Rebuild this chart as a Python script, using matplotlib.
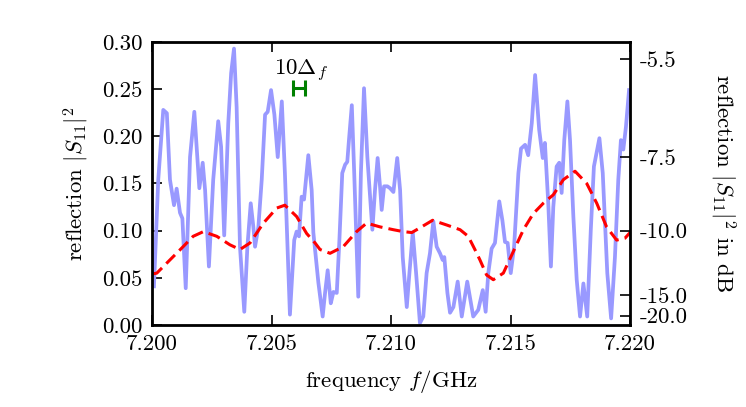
import numpy as np
import matplotlib
matplotlib.use("Agg")
import matplotlib.pyplot as plt

plt.rcParams["font.family"] = "serif"
plt.rcParams["font.serif"] = ["cmr10"]
plt.rcParams["mathtext.fontset"] = "cm"
plt.rcParams["axes.unicode_minus"] = False
plt.rcParams["axes.formatter.use_mathtext"] = True

freq_meas = [7.20008, 7.20026, 7.20047, 7.20062, 7.20075, 7.20092, 7.20103, 7.20117,
             7.20127, 7.20141, 7.20159, 7.20177, 7.20198, 7.20212, 7.20222, 7.20238,
             7.20256, 7.20277, 7.20289, 7.20302, 7.20319, 7.20331, 7.20343, 7.20354,
             7.20368, 7.20386, 7.20399, 7.20413, 7.20424, 7.20431, 7.20445, 7.20459,
             7.20473, 7.20484, 7.20498, 7.20512, 7.20526, 7.20543, 7.20556, 7.20577,
             7.20595, 7.20605, 7.20615, 7.20626, 7.20636, 7.20654, 7.20668, 7.20675,
             7.20696, 7.20714, 7.20724, 7.20735, 7.20748, 7.20759, 7.20773, 7.20784,
             7.20796, 7.20808, 7.20817, 7.20824, 7.20836, 7.20846, 7.20863, 7.20874,
             7.20887, 7.20901, 7.20922, 7.20933, 7.20944, 7.20954, 7.20961, 7.20971,
             7.20985, 7.20996, 7.21010, 7.21026, 7.21038, 7.21049, 7.21066, 7.21077,
             7.21091, 7.21105, 7.21121, 7.21135, 7.21149, 7.21163, 7.21177, 7.21191,
             7.21205, 7.21216, 7.21223, 7.21236, 7.21247, 7.21261, 7.21279, 7.21296,
             7.21319, 7.21344, 7.21365, 7.21384, 7.21396, 7.21407, 7.21421, 7.21435,
             7.21453, 7.21466, 7.21477, 7.21488, 7.21501, 7.21515, 7.21533, 7.21544,
             7.21561, 7.21574, 7.21589, 7.21603, 7.21620, 7.21635, 7.21644, 7.21658,
             7.21669, 7.21679, 7.21693, 7.21704, 7.21714, 7.21725, 7.21738, 7.21749,
             7.21763, 7.21777, 7.21791, 7.21805, 7.21821, 7.21836, 7.21849, 7.21872,
             7.21886, 7.21905, 7.21921, 7.21937, 7.21951, 7.21962, 7.21972, 7.21983,
             7.21996]
refl_meas = [0.041, 0.154, 0.228, 0.2245, 0.154, 0.127, 0.1445, 0.119,
             0.113, 0.039, 0.178, 0.226, 0.145, 0.172, 0.143, 0.062,
             0.154, 0.216, 0.189, 0.095, 0.214, 0.267, 0.293, 0.231,
             0.083, 0.014, 0.083, 0.129, 0.104, 0.083, 0.104, 0.154,
             0.223, 0.226, 0.249, 0.223, 0.178, 0.237, 0.161, 0.011,
             0.090, 0.099, 0.094, 0.136, 0.133, 0.180, 0.143, 0.098,
             0.045, 0.009, 0.034, 0.058, 0.023, 0.035, 0.034, 0.090,
             0.161, 0.170, 0.173, 0.196, 0.233, 0.161, 0.030, 0.161,
             0.251, 0.178, 0.101, 0.143, 0.177, 0.147, 0.122, 0.147,
             0.147, 0.145, 0.141, 0.177, 0.143, 0.072, 0.019, 0.055,
             0.098, 0.055, 0.002, 0.009, 0.055, 0.076, 0.110, 0.083,
             0.076, 0.069, 0.072, 0.034, 0.013, 0.019, 0.046, 0.009,
             0.046, 0.009, 0.016, 0.037, 0.014, 0.055, 0.081, 0.087,
             0.131, 0.111, 0.088, 0.087, 0.055, 0.083, 0.161, 0.187,
             0.191, 0.180, 0.214, 0.265, 0.207, 0.177, 0.193, 0.129,
             0.062, 0.125, 0.168, 0.172, 0.140, 0.196, 0.237, 0.196,
             0.115, 0.048, 0.009, 0.044, 0.009, 0.101, 0.168, 0.198,
             0.161, 0.055, 0.007, 0.072, 0.154, 0.196, 0.186, 0.210,
             0.249]

# smoothed reflection (10 Delta_f averaging)
freq_avg = [7.20000, 7.20020, 7.20075, 7.20130, 7.20172, 7.20215, 7.20271, 7.20326,
            7.20368, 7.20410, 7.20466, 7.20522, 7.20556, 7.20605, 7.20647, 7.20682,
            7.20703, 7.20745, 7.20800, 7.20856, 7.20898, 7.20954, 7.21010, 7.21051,
            7.21087, 7.21121, 7.21174, 7.21233, 7.21289, 7.21323, 7.21351, 7.21372,
            7.21400, 7.21428, 7.21470, 7.21512, 7.21554, 7.21595, 7.21637, 7.21679,
            7.21721, 7.21770, 7.21819, 7.21861, 7.21902, 7.21944, 7.21979, 7.22000]
refl_avg = [0.054, 0.055, 0.069, 0.083, 0.094, 0.099, 0.094, 0.085,
            0.080, 0.087, 0.108, 0.124, 0.127, 0.115, 0.097, 0.087,
            0.080, 0.076, 0.083, 0.099, 0.108, 0.104, 0.101, 0.099,
            0.098, 0.103, 0.111, 0.106, 0.101, 0.094, 0.080, 0.069,
            0.053, 0.048, 0.055, 0.078, 0.101, 0.118, 0.129, 0.138,
            0.154, 0.163, 0.150, 0.129, 0.104, 0.090, 0.092, 0.098]

db_ticks = [-5.5, -7.5, -10.0, -15.0, -20.0]
delta_f = 50e-6  # GHz
bar_center = (7.20613, 0.2513)

fs = 16.5

fig = plt.figure(figsize=(7.46, 4.07), dpi=100)
ax = fig.add_axes([0.2038, 0.2015, 0.6407, 0.6953])

ax.plot(freq_meas, refl_meas, color="#9999ff", lw=2.7, solid_joinstyle="round")
ax.plot(freq_avg, refl_avg, color="red", lw=2.2, ls=(0, (4.0, 2.0)))

ax.errorbar(bar_center[0], bar_center[1], xerr=5 * delta_f, color="green",
            lw=2.2, capsize=6, capthick=2.2)
ax.text(bar_center[0] + 0.00012, 0.269, r"$10\Delta_f$", fontsize=fs,
        ha="center", va="center")

ax.set_xlim(7.2, 7.22)
ax.set_ylim(0, 0.30)
ax.set_xticks([7.200, 7.205, 7.210, 7.215, 7.220])
ax.set_xticklabels(["7.200", "7.205", "7.210", "7.215", "7.220"])
ax.set_yticks([0.0, 0.05, 0.10, 0.15, 0.20, 0.25, 0.30])
ax.set_yticklabels(["0.00", "0.05", "0.10", "0.15", "0.20", "0.25", "0.30"])
ax.tick_params(direction="in", length=7, width=1.2, labelsize=fs, top=True,
               right=False, pad=7)
for s in ax.spines.values():
    s.set_linewidth(2)
ax.set_xlabel(r"frequency $f/\mathrm{GHz}$", fontsize=fs, labelpad=10)
ax.set_ylabel(r"reflection $|S_{11}|^2$", fontsize=fs, labelpad=8)

ax2 = ax.twinx()
ax2.set_ylim(0, 0.30)
ax2.set_yticks([10 ** (d / 10) for d in db_ticks])
ax2.set_yticklabels(["%.1f" % d for d in db_ticks])
ax2.tick_params(direction="in", length=7, width=1.2, labelsize=fs, pad=7)
ax2.set_ylabel(r"reflection $|S_{11}|^2$ in dB", fontsize=fs, rotation=270,
               labelpad=36)

fig.savefig("out.png", dpi=100)
